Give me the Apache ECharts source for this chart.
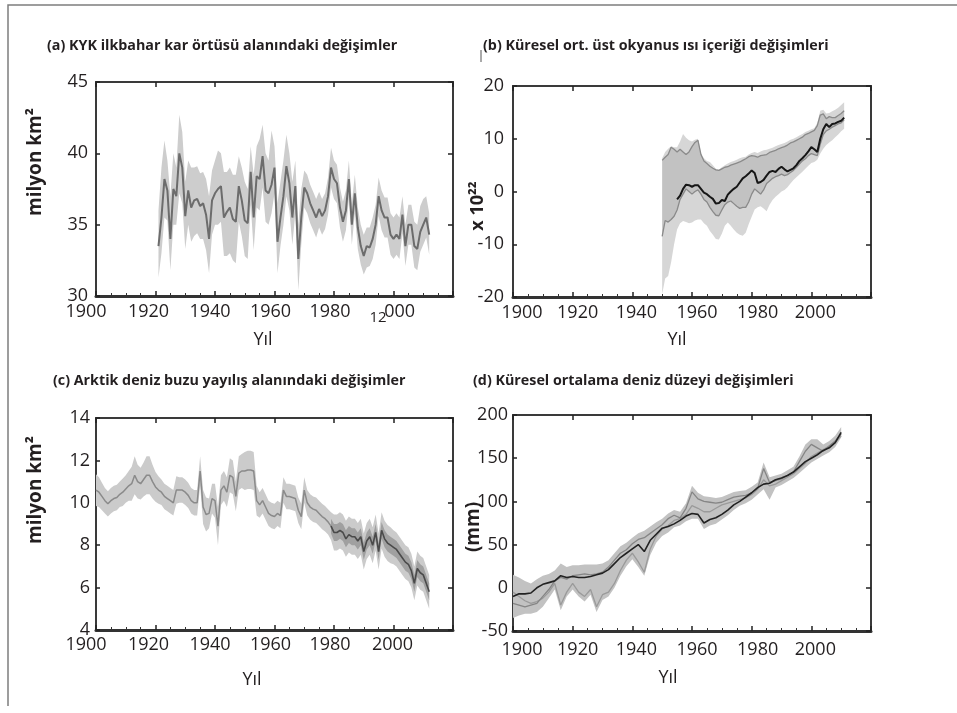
<!DOCTYPE html>
<html>
<head>
<meta charset="utf-8">
<script src="https://cdn.jsdelivr.net/npm/echarts@6/dist/echarts.min.js"></script>
<style>
  html, body { margin: 0; padding: 0; background: #fff; }
  #chart { width: 957px; height: 713px; }
</style>
</head>
<body>
<div id="chart"></div>
<script>
// ---------- (a) Northern Hemisphere spring snow cover (million km²) ----------
const snowStart = 1921;
const snowMean = [
  33.5, 35.5, 38.2, 37.4, 34.0, 37.5, 37.0, 40.0, 39.0, 35.6,
  37.4, 36.2, 36.7, 36.8, 36.3, 36.5, 35.7, 34.0, 36.7, 37.2,
  37.5, 37.7, 35.5, 35.9, 36.2, 35.4, 35.2, 37.7, 36.7, 35.3,
  35.1, 38.7, 35.5, 38.4, 38.2, 39.8, 37.4, 37.2, 37.8, 39.0,
  33.8, 35.5, 37.0, 39.1, 37.9, 35.5, 37.7, 32.6, 35.5, 37.6,
  37.2, 36.5, 36.0, 35.5, 36.1, 35.6, 36.0, 37.0, 39.0, 38.2,
  37.9, 36.2, 35.2, 36.0, 38.2, 35.0, 37.2, 34.8, 33.5, 32.8,
  33.5, 33.4, 34.0, 35.0, 37.0, 36.0, 35.5, 35.5, 34.3, 34.0,
  34.3, 34.0, 35.7, 33.5, 35.0, 35.0, 33.5, 33.3, 34.5, 35.0,
  35.5, 34.3
];
const snowHigh = [
  36, 39, 40.9, 39.5, 37, 40, 39, 42.7, 41.5, 38,
  39.5, 39, 39, 39.1, 38.6, 38.7, 38.2, 37, 38.8, 39.5,
  40.2, 40, 38.7, 38.7, 39, 38.5, 38.5, 39.8, 39, 38,
  37.5, 40.5, 38.5, 40.5, 41, 42, 40, 39.5, 41.6, 40.5,
  36.5, 38, 39.5, 41.3, 40, 38, 39.5, 35, 37.5, 38.8,
  38.5, 37.8, 37.3, 36.8, 37.3, 36.8, 37.2, 38.3, 40.4, 39.5,
  39.2, 37.6, 36.6, 37.4, 39.5, 36.5, 38.5, 36.2, 35, 34.3,
  34.8, 34.8, 35.5, 36.4, 38.3, 37.4, 36.9, 36.9, 35.8, 35.5,
  35.8, 35.5, 37, 35, 36.4, 36.4, 35.2, 35, 36.3, 36.8,
  37, 35.8
];
const snowLow = [
  31.3, 33, 35.5, 35.3, 31.8, 35, 35, 37.2, 36.5, 33.3,
  35, 33.8, 34.2, 34.4, 34, 34, 33.2, 31.6, 34.3, 35,
  35, 35.2, 32.8, 32.8, 33, 32.5, 32.3, 35.2, 34.2, 32.8,
  32.6, 36.4, 33.2, 36.2, 36, 37.6, 35.2, 35, 35.8, 37.2,
  31.6, 33.5, 35, 37, 36, 33.6, 35.8, 30.4, 33.6, 36.2,
  35.8, 35.1, 34.6, 34.1, 34.8, 34.3, 34.7, 35.7, 37.6, 36.8,
  36.5, 34.8, 33.8, 34.6, 36.8, 33.6, 35.8, 33.3, 32.2, 31.5,
  32, 32.1, 32.6, 33.6, 35.6, 34.6, 34.1, 34.1, 32.9, 32.6,
  32.9, 32.6, 34.4, 32.1, 33.6, 33.6, 32, 31.8, 33.1, 33.6,
  34.1, 32.9
];

// ---------- (b) Global mean upper ocean heat content (x 10^22 J) ----------
const ohcStart = 1950;
const ohcMain = [
  null, null, null, null, null,
  -1.5, -0.8, 0.5, 1.3, 1.2, 0.9, 1.2, 1.2, 0.5, -0.2,
  -0.5, -1.0, -1.4, -2.3, -2.2, -1.6, -1.8, -0.6, 0.0, 0.5,
  0.9, 1.7, 2.5, 2.9, 3.4, 4.0, 3.5, 1.6, 1.8, 2.2,
  3.0, 3.7, 3.9, 3.7, 4.3, 4.7, 4.2, 3.8, 4.1, 4.4,
  5.0, 5.8, 6.3, 6.9, 7.6, 8.4, 8.0, 7.5, 10.0, 11.8,
  12.8, 12.2, 12.8, 12.9, 13.2, 13.4, 14.0
];
const ohcAlt1 = [
  5.9, 6.5, 7.0, 8.4, 8.0, 7.5, 8.0, 7.5, 7.0, 7.5,
  8.5, 9.3, 9.7, 7.0, 5.8, 5.3, 4.8, 4.4, 4.1, 4.0,
  4.3, 4.6, 4.7, 5.0, 5.2, 5.4, 5.6, 5.9, 6.2, 6.6,
  6.8, 6.7, 6.5, 6.8, 6.9, 7.0, 7.4, 7.6, 7.8, 8.1,
  8.3, 8.5, 8.8, 9.2, 9.4, 9.7, 10.0, 10.3, 10.8, 11.0,
  11.3, 11.6, 12.5, 14.5, 14.7, 13.8, 14.2, 14.0, 14.0, 14.4,
  14.8, 15.3
];
const ohcAlt2 = [
  -8.5, -5.5, -5.8, -5.3, -4.7, -3.5, -1.5, -0.5, 0.5, 0.0,
  -0.5, 0.0, 0.3, -0.5, -1.5, -2.0, -3.0, -3.8, -4.5, -4.6,
  -3.5, -2.5, -2.0, -1.8, -2.3, -2.8, -3.2, -3.0, -3.0, -2.0,
  -0.5, 0.5, 0.0, -0.5, 0.3, 1.5, 2.0, 2.5, 2.8, 3.0,
  3.3, 3.0, 3.2, 3.6, 4.0, 4.6, 5.2, 5.8, 6.2, 6.8,
  7.2, 7.0, 6.8, 9.0, 10.8, 11.5, 11.8, 12.2, 12.5, 12.8,
  13.0, 13.6
];
const ohcLow = [
  -19.5, -16.5, -16, -13.4, -10, -7.2, -6, -5.6, -5.8, -6,
  -5.9, -5.5, -5.3, -5.3, -6, -6.5, -7.5, -8.2, -9, -9.1,
  -8, -6.5, -5.9, -6.5, -7.2, -7.8, -8.2, -8.4, -7.8, -6.2,
  -4.8, -3.4, -3, -2.8, -3.2, -3.75, -2.5, -1.6, -1, -0.5,
  0, 0.3, 0.8, 1.5, 2.2, 2.7, 3.2, 3.75, 4.3, 4.9,
  5.4, 5.6, 6, 7.2, 8.1, 8.8, 9.3, 9.7, 10.3, 10.8,
  11.4, 11.9
];
const ohcHigh = [
  6.3, 7.5, 8.1, 8.6, 8.4, 8.4, 9.5, 10.9, 10.2, 9.7,
  9.5, 9.8, 10, 7.2, 6.3, 5.8, 5.6, 5, 4.3, 4.1,
  4.6, 5, 5.3, 5.6, 5.8, 6, 6.3, 6.5, 6.6, 7,
  7.3, 7.5, 7.3, 7.6, 7.8, 7.9, 8.1, 8.3, 8.6, 8.8,
  9, 9.2, 9.5, 9.8, 10, 10.3, 10.6, 10.9, 11.3, 11.5,
  11.8, 12, 13, 15.3, 15.5, 14.8, 14.9, 15.2, 15.5, 15.9,
  16.4, 16.9
];

// ---------- (c) Arctic summer sea ice extent (million km²) ----------
const iceStart = 1900;
const iceMean = [
  10.6, 10.5, 10.3, 10.1, 9.95, 10.1, 10.2, 10.25, 10.4, 10.5,
  10.65, 10.8, 10.9, 11.3, 11.0, 10.9, 11.1, 11.3, 11.3, 11.0,
  10.75, 10.6, 10.5, 10.3, 10.2, 10.1, 10.0, 10.6, 10.6, 10.6,
  10.5, 10.35, 10.1, 10.0, 10.0, 11.5, 9.8, 9.45, 9.5, 10.2,
  10.1, 8.9, 10.6, 10.8, 10.5, 11.3, 11.2, 10.3, 11.4, 11.5,
  11.5, 11.55, 11.55, 11.5, 10.1, 9.9, 10.1, 9.8, 9.5, 9.4,
  9.35, 9.5, 9.4, 10.6, 10.3, 10.3, 10.25, 10.2, 9.65, 9.35,
  10.6, 10.0, 9.8, 9.7, 9.65, 9.5, 9.35, 9.25, 9.1, 8.9,
  8.6, 8.6, 8.7, 8.6, 8.3, 8.5, 8.4, 8.4, 8.2, 8.4,
  7.7, 8.2, 8.4, 8.0, 8.6, 7.7, 8.7, 8.3, 8.1, 8.0,
  7.9, 7.8, 7.6, 7.4, 7.2, 7.1, 6.8, 6.2, 6.9, 6.7,
  6.6, 6.2, 5.8
];
const iceSpread = [
  0.75, 0.7, 0.65, 0.6, 0.6, 0.6, 0.6, 0.6, 0.6, 0.65,
  0.65, 0.7, 0.8, 0.9, 0.8, 0.75, 0.8, 0.9, 0.9, 0.8,
  0.7, 0.65, 0.6, 0.6, 0.6, 0.6, 0.6, 0.65, 0.6, 0.6,
  0.6, 0.6, 0.6, 0.6, 0.6, 0.7, 0.8, 0.8, 0.7, 0.7,
  0.8, 0.9, 0.7, 0.7, 0.7, 0.8, 0.8, 0.7, 0.8, 0.8,
  0.9, 0.9, 0.9, 0.9, 0.7, 0.6, 0.6, 0.6, 0.6, 0.6,
  0.6, 0.6, 0.6, 0.6, 0.6, 0.6, 0.6, 0.6, 0.6, 0.6,
  0.6, 0.6, 0.6, 0.6, 0.6, 0.6, 0.6, 0.6, 0.6, 0.65,
  0.85, 0.85, 0.85, 0.85, 0.85, 0.85, 0.85, 0.85, 0.85, 0.85,
  0.85, 0.85, 0.85, 0.85, 0.85, 0.85, 0.85, 0.85, 0.85, 0.85,
  0.8, 0.8, 0.8, 0.8, 0.8, 0.8, 0.8, 0.8, 0.8, 0.8,
  0.8, 0.8, 0.8
];
// satellite era: narrower inner band, 1979-2012
const iceInnerStart = 1979;
const iceInnerSpread = [
  0.35, 0.4, 0.4, 0.4, 0.4, 0.4, 0.4, 0.4, 0.4, 0.4, 0.4,
  0.4, 0.4, 0.4, 0.4, 0.4, 0.4, 0.4, 0.4, 0.4, 0.4,
  0.4, 0.4, 0.4, 0.4, 0.4, 0.4, 0.4, 0.4, 0.4, 0.4,
  0.4, 0.4, 0.4
];

// ---------- (d) Global mean sea level change (mm), every second year ----------
const slStart = 1900, slStep = 2;
const slMain = [
  -10, -7, -7, -6, 0, 4, 6, 8, 14, 12,
  13, 12, 12, 13, 15, 17, 21, 28, 35, 40,
  45, 50, 42, 55, 62, 69, 71, 74, 78, 83,
  86, 85, 75, 79, 81, 85, 90, 96, 100, 105,
  110, 116, 120, 121, 125, 127, 130, 134, 140, 146,
  150, 154, 159, 162, 168, 180
];
const slAltA = [
  -18, -20, -22, -20, -18, -10, -2, 8, 12, 10,
  14, 15, 16, 15, 16, 18, 24, 32, 40, 44,
  51, 56, 58, 63, 68, 73, 80, 84, 81, 92,
  111, 103, 100, 99, 98, 99, 102, 105, 106, 107,
  110, 115, 138, 122, 124, 126, 130, 134, 146, 158,
  166, 162, 158, 164, 170, 178
];
const slAltB = [
  -5, -10, -15, -18, -16, -12, -5, 5, -20, -5,
  5, -5, -10, -2, -22, -8, -5, 5, 20, 32,
  40, 30, 18, 45, 60, 68, 72, 78, 80, 85,
  95, 92, 88, 88, 92, 96, 98, 100, 102, 104,
  108, 114, 125, 118, 120, 124, 128, 132, 138, 144,
  152, 156, 160, 164, 168, 176
];
const slLow = [
  -35, -32, -30, -30, -28, -22, -12, -2, -26, -10,
  -2, -10, -16, -8, -28, -14, -10, 0, 14, 25,
  33, 24, 14, 38, 52, 60, 64, 70, 72, 77,
  80, 80, 68, 72, 74, 79, 84, 90, 95, 98,
  102, 108, 114, 102, 116, 119, 123, 127, 133, 139,
  145, 149, 153, 157, 163, 174
];
const slHigh = [
  15, 12, 8, 5, 10, 14, 16, 20, 28, 24,
  26, 26, 27, 27, 27, 28, 32, 40, 48, 52,
  58, 63, 66, 71, 76, 80, 86, 90, 88, 98,
  118, 110, 106, 105, 104, 105, 108, 111, 112, 113,
  117, 122, 145, 128, 130, 132, 136, 140, 152, 166,
  172, 172, 166, 170, 176, 186
];

// ---------- text ----------
const titles = [
  '(a) KYK ilkbahar kar örtüsü alanındaki değişimler',
  '(b) Küresel ort. üst okyanus ısı içeriği değişimleri',
  '(c) Arktik deniz buzu yayılış alanındaki değişimler',
  '(d) Küresel ortalama deniz düzeyi değişimleri'
];
const xName = 'Yıl';
const yNames = ['milyon km²', 'x 10²²', 'milyon km²', '(mm)'];
const yearTicks = [1900, 1920, 1940, 1960, 1980, 2000];

// ---------- helpers ----------
function years(start, n, step) {
  const out = [];
  for (let i = 0; i < n; i++) out.push(start + i * (step || 1));
  return out;
}
function pairs(xs, ys) { return xs.map((x, i) => [x, ys[i]]); }

const snowYears = years(snowStart, snowMean.length);
const ohcYears = years(ohcStart, ohcAlt1.length);
const iceYears = years(iceStart, iceMean.length);
const iceInnerYears = years(iceInnerStart, iceInnerSpread.length);
const slYears = years(slStart, slMain.length, slStep);

const FONT = '"Open Sans", "Noto Sans", sans-serif';
const INK = '#231f20';

function band(gi, xs, lo, hi, color, z) {
  return {
    type: 'custom', xAxisIndex: gi * 2, yAxisIndex: gi * 2, z: z, silent: true,
    data: [[xs[0], lo[0]]],
    renderItem: function (params, api) {
      const up = [], down = [];
      xs.forEach(function (x, i) {
        if (lo[i] == null || hi[i] == null) return;
        up.push(api.coord([x, hi[i]]));
        down.unshift(api.coord([x, lo[i]]));
      });
      return { type: 'polygon', shape: { points: up.concat(down) }, style: { fill: color } };
    }
  };
}
function line(gi, xs, ys, color, width, z) {
  return {
    type: 'line', xAxisIndex: gi * 2, yAxisIndex: gi * 2, z: z, silent: true,
    data: pairs(xs, ys), symbol: 'none', showSymbol: false, connectNulls: false,
    lineStyle: { color: color, width: width }
  };
}

// per-label horizontal nudges of the year labels
function yearLabel(offsets, margin) {
  const rich = {};
  yearTicks.forEach(function (y) {
    const d = offsets[y] || 0;
    rich['y' + y] = {
      fontFamily: FONT, fontSize: 18, color: INK,
      padding: d < 0 ? [0, -2 * d, 0, 0] : [0, 0, 0, 2 * d]
    };
  });
  return {
    show: true, margin: margin,
    formatter: function (v) { return yearTicks.indexOf(v) >= 0 ? '{y' + v + '|' + v + '}' : ''; },
    rich: rich
  };
}

const labelOffsets = [
  { 1900: -10, 1920: -7, 1940: -5, 1960: -4, 1980: -4, 2000: 1 },
  { 1900: 9, 1920: 5, 1940: 4, 1960: 5, 1980: 6, 2000: 4 },
  { 1900: -10, 1920: -7, 1940: -5, 1960: -4, 1980: -4, 2000: -1 },
  { 1900: 9, 1920: 5, 1940: 4, 1960: 5, 1980: 6, 2000: 4 }
];

const frame = { color: '#3a3a3a', width: 2 };
const grids = [
  { left: 96, top: 82, width: 357, height: 214 },
  { left: 513, top: 86, width: 358, height: 211 },
  { left: 96, top: 418, width: 357, height: 212 },
  { left: 513, top: 415, width: 358, height: 216 }
];
const yRanges = [
  { min: 30, max: 45, interval: 5, margin: 8 },
  { min: -20, max: 20, interval: 10, margin: 9 },
  { min: 4, max: 14, interval: 2, margin: 6 },
  { min: -50, max: 200, interval: 50, margin: 5 }
];
const xMargins = [7, 7, 6, 10];

const xAxes = [], yAxes = [];
grids.forEach(function (g, gi) {
  xAxes.push({
    type: 'value', gridIndex: gi, position: 'bottom', min: 1900, max: 2020, interval: 20,
    axisLine: { show: true, onZero: false, lineStyle: { color: '#333', width: 3 } },
    axisTick: { show: true, inside: true, length: 5, lineStyle: { color: '#222', width: 1.5 } },
    minorTick: { show: true, splitNumber: 4, length: 3, lineStyle: { color: '#333', width: 1 } },
    axisLabel: yearLabel(labelOffsets[gi], xMargins[gi]),
    splitLine: { show: false }, minorSplitLine: { show: false }
  });
  xAxes.push({
    type: 'value', gridIndex: gi, position: 'top', min: 1900, max: 2020, interval: 20,
    axisLine: { show: true, onZero: false, lineStyle: frame },
    axisTick: { show: true, inside: true, length: 5, lineStyle: { color: '#222', width: 1.5 } },
    axisLabel: { show: false }, splitLine: { show: false }
  });
  const r = yRanges[gi];
  yAxes.push({
    type: 'value', gridIndex: gi, position: 'left', min: r.min, max: r.max, interval: r.interval,
    axisLine: { show: true, onZero: false, lineStyle: frame },
    axisTick: { show: true, inside: true, length: 4, lineStyle: { color: '#222', width: 1.5 } },
    axisLabel: { show: true, margin: r.margin, fontFamily: FONT, fontSize: 18, color: INK },
    splitLine: { show: false }
  });
  yAxes.push({
    type: 'value', gridIndex: gi, position: 'right', min: r.min, max: r.max, interval: r.interval,
    axisLine: { show: true, onZero: false, lineStyle: frame },
    axisTick: { show: true, inside: true, length: 5, lineStyle: { color: '#222', width: 1.5 } },
    axisLabel: { show: false }, splitLine: { show: false }
  });
});

// ---------- series ----------
const series = [];
// (a)
series.push(band(0, snowYears, snowLow, snowHigh, '#cdcdcd', 2));
series.push(line(0, snowYears, snowMean, '#6c6c6c', 2, 5));
// (b)
series.push(band(1, ohcYears, ohcLow, ohcHigh, '#d6d6d6', 2));
series.push(band(1, ohcYears, ohcAlt2, ohcAlt1, 'rgba(150,150,150,0.3)', 3));
series.push(line(1, ohcYears, ohcAlt1, '#8a8a8a', 1.3, 4));
series.push(line(1, ohcYears, ohcAlt2, '#8a8a8a', 1.3, 4));
series.push(line(1, ohcYears, ohcMain, '#161616', 2, 6));
// (c)
const iceLow = iceMean.map(function (v, i) { return v - iceSpread[i]; });
const iceHigh = iceMean.map(function (v, i) { return v + iceSpread[i]; });
const iceInnerMean = iceInnerYears.map(function (y) { return iceMean[y - iceStart]; });
const iceInnerLow = iceInnerMean.map(function (v, i) { return v - iceInnerSpread[i]; });
const iceInnerHigh = iceInnerMean.map(function (v, i) { return v + iceInnerSpread[i]; });
const icePreYears = iceYears.filter(function (y) { return y <= 1980; });
series.push(band(2, iceYears, iceLow, iceHigh, '#cbcbcb', 2));
series.push(band(2, iceInnerYears, iceInnerLow, iceInnerHigh, '#a0a0a0', 3));
series.push(line(2, icePreYears, iceMean.slice(0, icePreYears.length), '#8a8a8a', 1.5, 5));
series.push(line(2, iceInnerYears, iceInnerMean, '#4a4a4a', 1.6, 5));
// (d)
series.push(band(3, slYears, slLow, slHigh, '#c2c2c2', 2));
series.push(line(3, slYears, slAltB, '#9a9a9a', 1.3, 4));
series.push(line(3, slYears, slAltA, '#858585', 1.3, 4));
series.push(line(3, slYears, slMain, '#222222', 1.6, 6));

// ---------- titles, axis names, outer frame ----------
function txt(x, y, text, size, weight, rot) {
  return {
    type: 'text', x: x, y: y, rotation: rot || 0, z: 50, silent: true,
    style: {
      text: text, fill: INK, align: 'center', verticalAlign: 'middle',
      font: (weight || 'normal') + ' ' + size + 'px ' + FONT
    }
  };
}
function title(x, y, text) {
  return {
    type: 'text', x: x, y: y, z: 50, silent: true,
    style: { text: text, fill: INK, align: 'left', verticalAlign: 'middle',
      font: 'bold 14.3px ' + FONT }
  };
}
const graphic = [
  { type: 'polyline', silent: true, z: 40,
    shape: { points: [[8, 706], [8, 5], [957, 5]] },
    style: { stroke: '#7d7d7d', lineWidth: 1.5, fill: null } },
  { type: 'line', silent: true, z: 40,
    shape: { x1: 481, y1: 50, x2: 481, y2: 62 },
    style: { stroke: '#555', lineWidth: 1 } },
  title(47, 46, titles[0]),
  title(483, 46, titles[1]),
  title(53, 381, titles[2]),
  title(473, 381, titles[3]),
  txt(36, 162, yNames[0], 19, 'bold', Math.PI / 2),
  txt(478, 206, yNames[1], 18, 'bold', Math.PI / 2),
  txt(36, 490, yNames[2], 19, 'bold', Math.PI / 2),
  txt(474, 527, yNames[3], 19, 'bold', Math.PI / 2),
  txt(263, 340, xName, 18),
  txt(677, 340, xName, 18),
  txt(252, 680, xName, 18),
  txt(668, 678, xName, 18),
  { type: 'rect', silent: true, z: 59,
    shape: { x: 371, y: 301, width: 13, height: 18 },
    style: { fill: '#fff' } },
  { type: 'text', x: 378, y: 318, z: 60, silent: true,
    style: { text: '12', fill: INK, align: 'center', verticalAlign: 'middle',
      font: '15px ' + FONT } }
];

const chart = echarts.init(document.getElementById('chart'), null, { renderer: 'canvas' });
chart.setOption({
  animation: false,
  backgroundColor: '#ffffff',
  grid: grids.map(function (g) {
    return Object.assign({ show: true, borderColor: '#3a3a3a', borderWidth: 2, backgroundColor: 'transparent', containLabel: false }, g);
  }),
  xAxis: xAxes,
  yAxis: yAxes,
  series: series,
  graphic: graphic
});
</script>
</body>
</html>
